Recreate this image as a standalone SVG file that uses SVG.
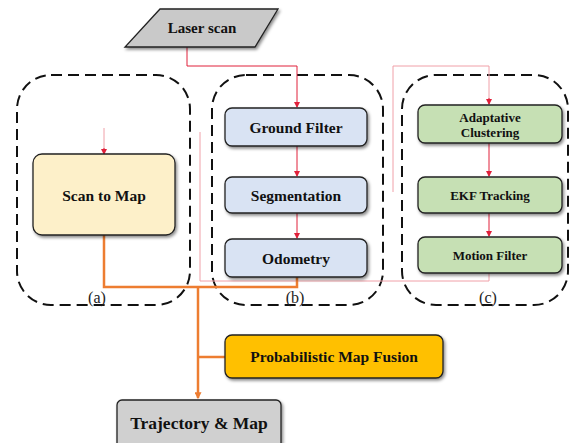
<svg xmlns="http://www.w3.org/2000/svg" width="573" height="443" viewBox="0 0 573 443">
<defs>
<filter id="sh" x="-10%" y="-10%" width="130%" height="140%">
<feDropShadow dx="1.5" dy="2" stdDeviation="1.5" flood-color="#000" flood-opacity="0.45"/>
</filter>
<marker id="ar" viewBox="0 0 6 6" refX="5" refY="3" markerWidth="6" markerHeight="6" orient="auto" markerUnits="userSpaceOnUse">
<path d="M0,0 L6,3 L0,6 z" fill="#e0203a"/>
</marker>
<marker id="ao" viewBox="0 0 6 6" refX="5" refY="3" markerWidth="7" markerHeight="7" orient="auto" markerUnits="userSpaceOnUse">
<path d="M0,0 L6,3 L0,6 z" fill="#ed7d31"/>
</marker>
</defs>
<style>
.grp{fill:none;stroke:#111;stroke-width:2;stroke-dasharray:11 6}
.box{stroke:#222;stroke-width:1.3;filter:url(#sh)}
.t{font-family:"Liberation Serif",serif;font-weight:bold;fill:#111;text-anchor:middle;dominant-baseline:central}
.lab{font-family:"Liberation Serif",serif;font-size:16px;fill:#222;text-anchor:middle;dominant-baseline:central}
.red{fill:none;stroke:#e0203a;stroke-width:1}
.faint{fill:none;stroke:#f0a0a8;stroke-width:1}
.or{fill:none;stroke:#ed7d31;stroke-width:2.5}
</style>
<rect width="573" height="443" fill="#fff"/>

<g id="groups">
<rect id="group-a" class="grp" x="17" y="75" width="173" height="230" rx="34"/>
<rect id="group-b" class="grp" x="212" y="75" width="171" height="230" rx="34"/>
<rect id="group-c" class="grp" x="402" y="75" width="166" height="230" rx="34"/>
<text class="lab" x="97" y="297">(a)</text>
<text class="lab" x="295" y="297">(b)</text>
<text class="lab" x="488" y="297">(c)</text>
</g>

<g id="connectors">
<path class="red" d="M187,47 V66 H297 V107" marker-end="url(#ar)"/>
<path class="red" d="M297,146 V176" marker-end="url(#ar)"/>
<path class="red" d="M297,213 V238" marker-end="url(#ar)"/>
<path class="faint" d="M393,192 V66 H489 V104"/>
<path class="red" d="M489,98 V104" marker-end="url(#ar)"/>
<path class="red" d="M489,143 V176" marker-end="url(#ar)"/>
<path class="red" d="M489,213 V236" marker-end="url(#ar)"/>
<path class="faint" d="M489,273 V281 H200 V132"/>
<path class="faint" d="M104,128 V154"/>
<path class="red" d="M104,148 V154" marker-end="url(#ar)"/>
<path class="or" d="M104,235 V287 H297 V277"/>
<path class="or" d="M198,287 V398" marker-end="url(#ao)"/>
<path class="or" d="M225,357 H198"/>
</g>

<g id="laser-scan">
<polygon class="box" points="160,9 278,9 255,47 125,47" fill="#c9c9c9"/>
<text class="t" x="202" y="28" font-size="15">Laser scan</text>
</g>

<g id="scan-to-map">
<rect class="box" x="33" y="154" width="142" height="81" rx="9" fill="#fdf0c9"/>
<text class="t" x="104" y="195" font-size="15.5">Scan to Map</text>
</g>

<g id="ground-filter">
<rect class="box" x="225" y="108" width="142" height="38" rx="7" fill="#d9e3f3"/>
<text class="t" x="296" y="127" font-size="15.5">Ground Filter</text>
</g>
<g id="segmentation">
<rect class="box" x="225" y="177" width="142" height="36" rx="7" fill="#d9e3f3"/>
<text class="t" x="296" y="195" font-size="15.5">Segmentation</text>
</g>
<g id="odometry">
<rect class="box" x="225" y="239" width="142" height="38" rx="7" fill="#d9e3f3"/>
<text class="t" x="296" y="258" font-size="15.5">Odometry</text>
</g>

<g id="adaptative-clustering">
<rect class="box" x="418" y="105" width="144" height="38" rx="7" fill="#c6e0b4"/>
<text class="t" x="490" y="117" font-size="13">Adaptative</text>
<text class="t" x="490" y="132" font-size="13">Clustering</text>
</g>
<g id="ekf-tracking">
<rect class="box" x="418" y="177" width="144" height="36" rx="7" fill="#c6e0b4"/>
<text class="t" x="490" y="195" font-size="13">EKF Tracking</text>
</g>
<g id="motion-filter">
<rect class="box" x="418" y="237" width="144" height="36" rx="7" fill="#c6e0b4"/>
<text class="t" x="490" y="255" font-size="13">Motion Filter</text>
</g>

<g id="probabilistic-map-fusion">
<rect class="box" x="225" y="335" width="218" height="43" rx="7" fill="#ffc000"/>
<text class="t" x="334" y="356" font-size="15.5">Probabilistic Map Fusion</text>
</g>

<g id="trajectory-map">
<rect class="box" x="117" y="400" width="164" height="50" rx="5" fill="#d0d0d0"/>
<text class="t" x="199" y="423" font-size="17.5">Trajectory &amp; Map</text>
</g>
</svg>
